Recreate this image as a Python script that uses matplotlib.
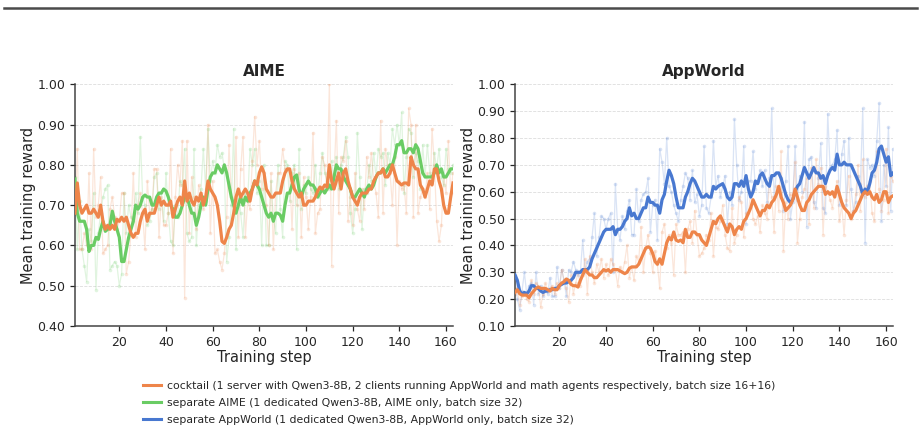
import matplotlib
matplotlib.use("Agg")
import matplotlib.pyplot as plt
from matplotlib.lines import Line2D
import numpy as np

# colours (seaborn "muted")
ORANGE = "#EE854A"
GREEN = "#6ACC64"
BLUE = "#4878D0"

steps = np.arange(1, 164)

# ---- AIME: raw per-step rewards ----
aime_separate_raw = [
    0.77, 0.59, 0.71, 0.59, 0.55, 0.51, 0.64, 0.61, 0.73, 0.49,
    0.63, 0.68, 0.72, 0.74, 0.75, 0.54, 0.55, 0.56, 0.55, 0.50,
    0.53, 0.73, 0.63, 0.70, 0.67, 0.66, 0.73, 0.68, 0.87, 0.72,
    0.70, 0.65, 0.66, 0.69, 0.77, 0.78, 0.69, 0.73, 0.66, 0.78,
    0.68, 0.61, 0.60, 0.70, 0.67, 0.76, 0.75, 0.84, 0.63, 0.61,
    0.62, 0.84, 0.60, 0.70, 0.74, 0.84, 0.74, 0.89, 0.76, 0.81,
    0.78, 0.85, 0.82, 0.83, 0.79, 0.56, 0.62, 0.70, 0.89, 0.59,
    0.74, 0.68, 0.62, 0.73, 0.71, 0.84, 0.80, 0.84, 0.73, 0.76,
    0.60, 0.80, 0.60, 0.60, 0.76, 0.67, 0.63, 0.80, 0.69, 0.62,
    0.81, 0.80, 0.71, 0.78, 0.80, 0.59, 0.84, 0.69, 0.75, 0.73,
    0.77, 0.74, 0.73, 0.80, 0.72, 0.78, 0.83, 0.78, 0.76, 0.74,
    0.81, 0.75, 0.82, 0.74, 0.80, 0.82, 0.87, 0.82, 0.68, 0.63,
    0.69, 0.88, 0.77, 0.64, 0.74, 0.73, 0.80, 0.76, 0.83, 0.77,
    0.84, 0.82, 0.83, 0.75, 0.83, 0.80, 0.89, 0.85, 0.90, 0.85,
    0.93, 0.73, 0.82, 0.89, 0.88, 0.77, 0.83, 0.81, 0.74, 0.85,
    0.77, 0.85, 0.78, 0.76, 0.83, 0.79, 0.84, 0.77, 0.75, 0.84,
    0.79, 0.78, 0.80,
]
aime_cocktail_raw = [
    0.68, 0.84, 0.59, 0.59, 0.63, 0.60, 0.78, 0.59, 0.84, 0.67,
    0.70, 0.77, 0.58, 0.59, 0.60, 0.69, 0.72, 0.67, 0.64, 0.66,
    0.73, 0.73, 0.53, 0.56, 0.63, 0.78, 0.62, 0.70, 0.73, 0.68,
    0.59, 0.76, 0.68, 0.69, 0.79, 0.79, 0.62, 0.72, 0.65, 0.65,
    0.68, 0.84, 0.58, 0.72, 0.80, 0.75, 0.86, 0.47, 0.86, 0.63,
    0.77, 0.72, 0.64, 0.75, 0.73, 0.69, 0.71, 0.90, 0.63, 0.76,
    0.58, 0.59, 0.56, 0.54, 0.58, 0.67, 0.85, 0.72, 0.69, 0.87,
    0.62, 0.79, 0.87, 0.62, 0.71, 0.69, 0.81, 0.92, 0.80, 0.86,
    0.74, 0.78, 0.70, 0.60, 0.78, 0.59, 0.73, 0.78, 0.78, 0.84,
    0.79, 0.79, 0.78, 0.64, 0.79, 0.70, 0.78, 0.62, 0.77, 0.72,
    0.64, 0.72, 0.88, 0.63, 0.68, 0.69, 0.82, 0.80, 0.74, 1.00,
    0.55, 0.77, 0.91, 0.68, 0.82, 0.81, 0.86, 0.66, 0.72, 0.65,
    0.78, 0.69, 0.66, 0.74, 0.69, 0.82, 0.77, 0.83, 0.76, 0.73,
    0.67, 0.91, 0.68, 0.84, 0.80, 0.78, 0.70, 0.82, 0.60, 0.76,
    0.74, 0.75, 0.68, 0.94, 0.90, 0.67, 0.90, 0.68, 0.72, 0.74,
    0.72, 0.78, 0.69, 0.89, 0.80, 0.66, 0.61, 0.65, 0.77, 0.73,
    0.86, 0.73, 0.78,
]

# ---- AIME: smoothed curves ----
aime_separate_smooth = [
    0.765, 0.68, 0.66, 0.66, 0.66, 0.64, 0.585, 0.60, 0.60, 0.62,
    0.615, 0.64, 0.66, 0.635, 0.64, 0.65, 0.685, 0.66, 0.64, 0.62,
    0.56, 0.56, 0.59, 0.62, 0.64, 0.66, 0.70, 0.69, 0.70, 0.72,
    0.725, 0.72, 0.72, 0.70, 0.70, 0.72, 0.73, 0.73, 0.74, 0.735,
    0.72, 0.70, 0.69, 0.67, 0.67, 0.68, 0.70, 0.72, 0.72, 0.70,
    0.68, 0.68, 0.65, 0.67, 0.70, 0.72, 0.70, 0.74, 0.77, 0.78,
    0.78, 0.80, 0.79, 0.78, 0.80, 0.78, 0.75, 0.72, 0.70, 0.68,
    0.70, 0.72, 0.70, 0.72, 0.71, 0.73, 0.74, 0.76, 0.75, 0.74,
    0.72, 0.70, 0.68, 0.67, 0.68, 0.66, 0.68, 0.68, 0.675, 0.66,
    0.70, 0.73, 0.73, 0.75, 0.77, 0.775, 0.74, 0.72, 0.74, 0.75,
    0.76, 0.75, 0.75, 0.74, 0.72, 0.73, 0.74, 0.73, 0.74, 0.75,
    0.74, 0.77, 0.80, 0.79, 0.79, 0.77, 0.76, 0.75, 0.74, 0.72,
    0.72, 0.73, 0.74, 0.73, 0.72, 0.74, 0.75, 0.74, 0.75, 0.77,
    0.78, 0.78, 0.79, 0.78, 0.79, 0.80, 0.80, 0.82, 0.85, 0.85,
    0.86, 0.83, 0.83, 0.84, 0.84, 0.83, 0.85, 0.84, 0.81, 0.78,
    0.77, 0.77, 0.77, 0.77, 0.78, 0.80, 0.78, 0.79, 0.77, 0.77,
    0.78, 0.79, 0.79,
]
aime_cocktail_smooth = [
    0.68, 0.755, 0.70, 0.68, 0.69, 0.70, 0.68, 0.68, 0.69, 0.68,
    0.67, 0.70, 0.66, 0.64, 0.65, 0.64, 0.65, 0.64, 0.665, 0.66,
    0.67, 0.66, 0.67, 0.65, 0.63, 0.62, 0.63, 0.63, 0.66, 0.68,
    0.69, 0.66, 0.68, 0.68, 0.68, 0.70, 0.72, 0.70, 0.71, 0.70,
    0.70, 0.71, 0.67, 0.69, 0.71, 0.72, 0.70, 0.76, 0.71, 0.73,
    0.71, 0.70, 0.72, 0.71, 0.73, 0.70, 0.72, 0.76, 0.74, 0.73,
    0.72, 0.70, 0.66, 0.61, 0.605, 0.62, 0.64, 0.65, 0.68, 0.72,
    0.74, 0.72, 0.73, 0.74, 0.73, 0.71, 0.74, 0.76, 0.75, 0.78,
    0.795, 0.78, 0.74, 0.73, 0.72, 0.72, 0.73, 0.73, 0.73, 0.76,
    0.78, 0.79, 0.79, 0.76, 0.74, 0.73, 0.72, 0.73, 0.70, 0.70,
    0.71, 0.71, 0.71, 0.72, 0.735, 0.745, 0.74, 0.75, 0.745, 0.80,
    0.76, 0.74, 0.76, 0.78, 0.74, 0.78, 0.79, 0.76, 0.74, 0.72,
    0.71, 0.70, 0.72, 0.73, 0.73, 0.73, 0.74, 0.74, 0.76, 0.77,
    0.78, 0.78, 0.79, 0.77, 0.77, 0.78, 0.80, 0.78, 0.76, 0.755,
    0.75, 0.755, 0.755, 0.75, 0.82, 0.80, 0.79, 0.79, 0.75, 0.74,
    0.72, 0.74, 0.76, 0.75, 0.79, 0.79, 0.76, 0.74, 0.70, 0.68,
    0.68, 0.72, 0.755,
]

# ---- AppWorld: raw per-step rewards ----
app_separate_raw = [
    0.29, 0.20, 0.16, 0.23, 0.30, 0.22, 0.25, 0.26, 0.18, 0.30,
    0.22, 0.25, 0.21, 0.23, 0.22, 0.28, 0.21, 0.21, 0.32, 0.24,
    0.31, 0.27, 0.21, 0.31, 0.30, 0.34, 0.31, 0.29, 0.30, 0.42,
    0.30, 0.34, 0.35, 0.43, 0.52, 0.36, 0.43, 0.51, 0.50, 0.46,
    0.50, 0.52, 0.30, 0.63, 0.46, 0.42, 0.51, 0.46, 0.53, 0.57,
    0.44, 0.44, 0.61, 0.49, 0.57, 0.59, 0.60, 0.65, 0.45, 0.55,
    0.57, 0.42, 0.76, 0.71, 0.63, 0.80, 0.62, 0.60, 0.55, 0.52,
    0.49, 0.57, 0.62, 0.67, 0.65, 0.57, 0.68, 0.56, 0.59, 0.51,
    0.55, 0.77, 0.54, 0.52, 0.58, 0.79, 0.62, 0.66, 0.58, 0.62,
    0.66, 0.48, 0.60, 0.55, 0.87, 0.70, 0.57, 0.60, 0.77, 0.48,
    0.64, 0.64, 0.75, 0.61, 0.64, 0.68, 0.62, 0.68, 0.56, 0.65,
    0.91, 0.58, 0.67, 0.67, 0.65, 0.53, 0.64, 0.77, 0.50, 0.56,
    0.77, 0.57, 0.66, 0.60, 0.86, 0.47, 0.72, 0.73, 0.56, 0.54,
    0.65, 0.78, 0.54, 0.52, 0.89, 0.69, 0.70, 0.72, 0.83, 0.55,
    0.74, 0.79, 0.55, 0.80, 0.61, 0.53, 0.56, 0.66, 0.63, 0.91,
    0.41, 0.72, 0.69, 0.70, 0.66, 0.79, 0.93, 0.49, 0.70, 0.62,
    0.84, 0.53, 0.76,
]
app_cocktail_raw = [
    0.22, 0.24, 0.18, 0.21, 0.22, 0.20, 0.19, 0.27, 0.22, 0.26,
    0.25, 0.17, 0.22, 0.26, 0.23, 0.24, 0.25, 0.22, 0.26, 0.24,
    0.31, 0.27, 0.24, 0.19, 0.29, 0.22, 0.26, 0.30, 0.25, 0.29,
    0.35, 0.22, 0.36, 0.30, 0.26, 0.33, 0.30, 0.35, 0.28, 0.33,
    0.29, 0.35, 0.33, 0.31, 0.25, 0.32, 0.30, 0.34, 0.40, 0.28,
    0.32, 0.27, 0.36, 0.34, 0.47, 0.30, 0.39, 0.44, 0.37, 0.30,
    0.38, 0.33, 0.24, 0.45, 0.48, 0.39, 0.44, 0.41, 0.29, 0.48,
    0.44, 0.44, 0.45, 0.30, 0.46, 0.49, 0.41, 0.53, 0.44, 0.36,
    0.37, 0.39, 0.44, 0.42, 0.52, 0.36, 0.47, 0.46, 0.49, 0.55,
    0.44, 0.39, 0.38, 0.54, 0.41, 0.44, 0.58, 0.56, 0.43, 0.52,
    0.52, 0.60, 0.50, 0.48, 0.51, 0.45, 0.55, 0.52, 0.50, 0.63,
    0.58, 0.45, 0.62, 0.53, 0.75, 0.38, 0.56, 0.50, 0.59, 0.58,
    0.71, 0.41, 0.50, 0.58, 0.61, 0.65, 0.48, 0.69, 0.54, 0.72,
    0.63, 0.69, 0.44, 0.62, 0.60, 0.57, 0.54, 0.60, 0.64, 0.49,
    0.55, 0.44, 0.57, 0.66, 0.50, 0.53, 0.59, 0.70, 0.53, 0.72,
    0.58, 0.62, 0.64, 0.52, 0.49, 0.75, 0.61, 0.53, 0.57, 0.76,
    0.52, 0.66, 0.64,
]

# ---- AppWorld: smoothed curves ----
app_separate_smooth = [
    0.29, 0.27, 0.23, 0.22, 0.225, 0.22, 0.23, 0.25, 0.25, 0.24,
    0.24, 0.23, 0.225, 0.23, 0.23, 0.235, 0.235, 0.24, 0.24, 0.25,
    0.255, 0.26, 0.26, 0.265, 0.27, 0.28, 0.30, 0.30, 0.30, 0.31,
    0.31, 0.31, 0.32, 0.35, 0.37, 0.39, 0.41, 0.43, 0.45, 0.46,
    0.46, 0.46, 0.47, 0.44, 0.46, 0.46, 0.47, 0.49, 0.50, 0.54,
    0.51, 0.52, 0.50, 0.50, 0.52, 0.54, 0.54, 0.58, 0.56, 0.56,
    0.55, 0.55, 0.52, 0.57, 0.59, 0.64, 0.68, 0.66, 0.63, 0.58,
    0.54, 0.54, 0.54, 0.58, 0.60, 0.63, 0.65, 0.64, 0.62, 0.60,
    0.58, 0.58, 0.59, 0.58, 0.58, 0.62, 0.61, 0.62, 0.625, 0.63,
    0.61, 0.58, 0.57, 0.58, 0.63, 0.63, 0.62, 0.64, 0.62, 0.66,
    0.61, 0.58, 0.60, 0.64, 0.63, 0.66, 0.67, 0.65, 0.63, 0.62,
    0.66, 0.66, 0.67, 0.67, 0.65, 0.62, 0.59, 0.57, 0.56, 0.57,
    0.60, 0.62, 0.63, 0.66, 0.69, 0.67, 0.65, 0.67, 0.69, 0.67,
    0.67, 0.65, 0.66, 0.63, 0.66, 0.68, 0.69, 0.68, 0.74, 0.70,
    0.70, 0.71, 0.70, 0.70, 0.70, 0.68, 0.66, 0.64, 0.62, 0.59,
    0.61, 0.60, 0.63, 0.67, 0.68, 0.71, 0.76, 0.77, 0.74, 0.71,
    0.73, 0.66, 0.67,
]
app_cocktail_smooth = [
    0.225, 0.235, 0.22, 0.215, 0.215, 0.215, 0.205, 0.22, 0.23, 0.24,
    0.245, 0.24, 0.24, 0.24, 0.235, 0.23, 0.24, 0.235, 0.235, 0.25,
    0.26, 0.265, 0.275, 0.27, 0.255, 0.25, 0.25, 0.245, 0.27, 0.29,
    0.31, 0.30, 0.29, 0.29, 0.28, 0.28, 0.29, 0.30, 0.31, 0.305,
    0.31, 0.30, 0.31, 0.31, 0.31, 0.305, 0.30, 0.295, 0.30, 0.315,
    0.32, 0.32, 0.32, 0.33, 0.35, 0.37, 0.39, 0.395, 0.39, 0.37,
    0.34, 0.33, 0.35, 0.33, 0.37, 0.41, 0.43, 0.42, 0.45, 0.42,
    0.415, 0.42, 0.41, 0.46, 0.43, 0.43, 0.45, 0.45, 0.44, 0.44,
    0.42, 0.41, 0.40, 0.43, 0.46, 0.49, 0.48, 0.50, 0.51, 0.49,
    0.47, 0.45, 0.48, 0.47, 0.44, 0.46, 0.47, 0.46, 0.49, 0.50,
    0.52, 0.54, 0.57, 0.55, 0.53, 0.51, 0.53, 0.53, 0.55, 0.54,
    0.56, 0.57, 0.59, 0.62, 0.58, 0.56, 0.53, 0.54, 0.55, 0.57,
    0.61, 0.58, 0.55, 0.53, 0.53, 0.56, 0.57, 0.59, 0.60, 0.61,
    0.62, 0.62, 0.62, 0.59, 0.60, 0.59, 0.60, 0.58, 0.62, 0.59,
    0.56, 0.54, 0.53, 0.52, 0.50, 0.52, 0.53, 0.55, 0.57, 0.59,
    0.60, 0.59, 0.60, 0.58, 0.57, 0.59, 0.56, 0.57, 0.60, 0.60,
    0.56, 0.58, 0.585,
]

legend_labels = [
    "cocktail (1 server with Qwen3-8B, 2 clients running AppWorld and math agents respectively, batch size 16+16)",
    "separate AIME (1 dedicated Qwen3-8B, AIME only, batch size 32)",
    "separate AppWorld (1 dedicated Qwen3-8B, AppWorld only, batch size 32)",
]

TEXT = "#262626"
plt.rcParams["font.family"] = ["DejaVu Sans"]

fig = plt.figure(figsize=(9.21, 4.32), dpi=100)
ax1 = fig.add_axes([0.0814, 0.2454, 0.4105, 0.5595])
ax2 = fig.add_axes([0.5592, 0.2454, 0.4105, 0.5595])


def draw_panel(ax, title, series, ylim, yticks):
    for raw, smooth, col in series:
        ax.plot(steps, raw, color=col, alpha=0.2, lw=0.9,
                marker="o", ms=2.6, mew=0, zorder=2)
        ax.plot(steps, smooth, color=col, lw=2.3, zorder=3)
    ax.set_xlim(1, 163)
    ax.set_ylim(*ylim)
    ax.set_xticks(range(20, 161, 20))
    ax.set_yticks(yticks)
    ax.set_yticklabels([f"{v:.2f}" for v in yticks])
    ax.grid(axis="y", ls="--", lw=0.6, color="#dddddd", zorder=0)
    for s in ("top", "right"):
        ax.spines[s].set_visible(False)
    for s in ("left", "bottom"):
        ax.spines[s].set_color("#444444")
        ax.spines[s].set_linewidth(1.1)
    ax.tick_params(labelsize=9, colors=TEXT, length=3.5, width=0.9)
    ax.set_xlabel("Training step", fontsize=10.5, color=TEXT, labelpad=1)
    ax.set_ylabel("Mean training reward", fontsize=10.5, color=TEXT, labelpad=1)
    ax.set_title(title, fontsize=11, fontweight="bold", color=TEXT, pad=6)


draw_panel(ax1, "AIME",
           [(aime_separate_raw, aime_separate_smooth, GREEN),
            (aime_cocktail_raw, aime_cocktail_smooth, ORANGE)],
           (0.40, 1.00), np.round(np.arange(0.40, 1.001, 0.10), 2))
draw_panel(ax2, "AppWorld",
           [(app_separate_raw, app_separate_smooth, BLUE),
            (app_cocktail_raw, app_cocktail_smooth, ORANGE)],
           (0.10, 1.00), np.round(np.arange(0.10, 1.001, 0.10), 2))

# legend below the panels
handles = [Line2D([], [], color=c, lw=2.2) for c in (ORANGE, GREEN, BLUE)]
fig.legend(handles, legend_labels, loc="upper left", bbox_to_anchor=(0.155, 0.118),
           frameon=False, fontsize=7.8, handlelength=1.65, handletextpad=0.6,
           labelspacing=0.65, borderpad=0, borderaxespad=0, labelcolor=TEXT)

# rule across the top
fig.add_artist(Line2D([0.004, 0.996], [0.981, 0.981], transform=fig.transFigure,
                      color="#4a4a4a", lw=1.8))

fig.savefig("out.png", dpi=100)
